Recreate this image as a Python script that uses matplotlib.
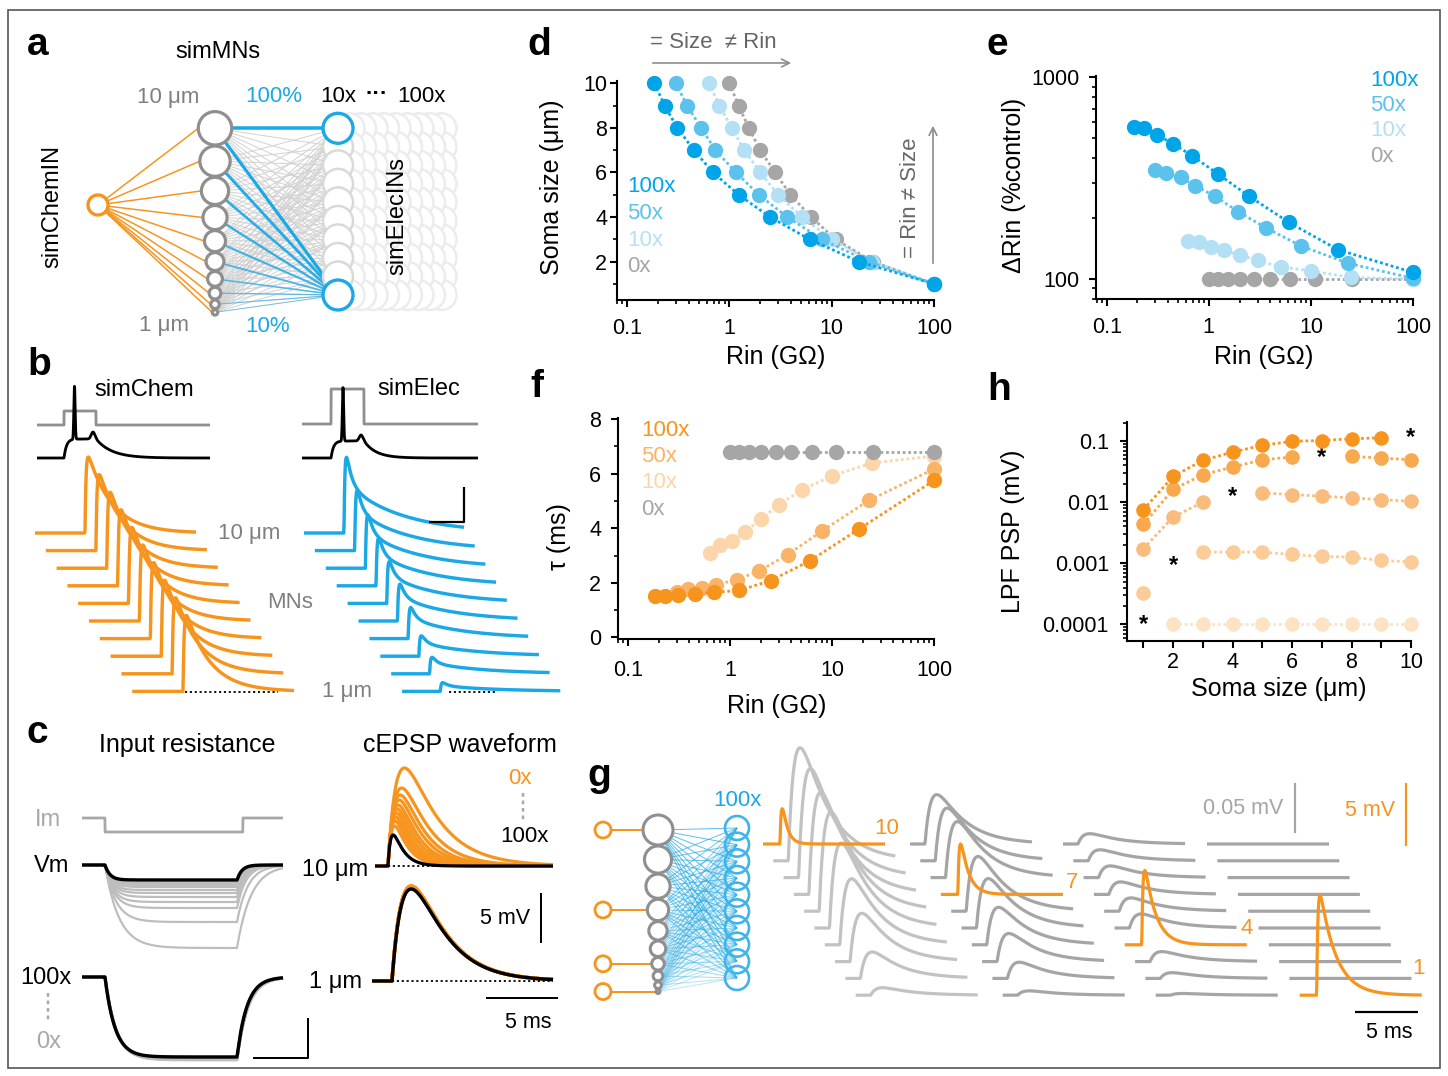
import numpy as np
import matplotlib
matplotlib.use('Agg')
import matplotlib.pyplot as plt
from matplotlib.patches import Circle, Rectangle
from matplotlib.ticker import FixedLocator, FixedFormatter, NullFormatter, LogLocator

plt.rcParams['font.family'] = ['Liberation Sans', 'DejaVu Sans']

# ---------------- data ----------------
soma = np.array([10, 9, 8, 7, 6, 5, 4, 3, 2, 1])          # soma size (um) of the 10 simMNs
cond_labels = ['100x', '50x', '10x', '0x']

# panel d / e / f : input resistance (GOhm) per soma size
rin_100x = [0.185, 0.233, 0.31, 0.45, 0.69, 1.23, 2.5, 6.1, 18.4, 100]
rin_50x = [0.30, 0.385, 0.53, 0.73, 1.16, 1.94, 3.67, 8.05, 23.0, 100]
rin_10x = [0.63, 0.80, 1.05, 1.4, 2.0, 3.0, 5.1, 10.0, 24.8, 100]
rin_0x = [1.0, 1.23, 1.55, 2.0, 2.8, 3.95, 6.3, 10.9, 25.3, 100]

drin_100x = [570, 560, 519, 468, 408, 332, 257, 191, 140, 108]
drin_50x = [348, 335, 320, 291, 257, 216, 179, 146, 120, 101]
drin_10x = [155, 152, 145, 139, 132, 124, 115, 110, 102, 100]
drin_0x = [100, 100, 100, 100, 100, 100, 100, 100, 100, 100]

tau_100x = [1.53, 1.53, 1.56, 1.60, 1.65, 1.72, 2.08, 2.81, 3.97, 5.75]
tau_50x = [1.65, 1.78, 1.80, 1.93, 2.11, 2.44, 3.03, 3.91, 5.02, 6.17]
tau_10x = [3.11, 3.39, 3.52, 3.86, 4.33, 4.86, 5.41, 5.92, 6.39, 6.65]
tau_0x = [6.78, 6.78, 6.78, 6.78, 6.78, 6.78, 6.78, 6.78, 6.78, 6.78]

# panel h : LPF PSP (mV) in MNs of size 1..10 um, for each stimulated MN
nan = np.nan
h_size = [1, 2, 3, 4, 5, 6, 7, 8, 9, 10]
psp_mn10 = [0.0075, 0.0264, 0.0483, 0.066, 0.085, 0.099, 0.102, 0.109, 0.113, nan]
psp_mn7 = [0.00433, 0.0162, 0.0281, 0.0375, 0.0494, 0.0547, nan, 0.056, 0.0527, 0.0494]
psp_mn4 = [0.00173, 0.0057, 0.0100, nan, 0.0141, 0.0133, 0.0125, 0.0117, 0.0110, 0.0103]
psp_mn2 = [0.000325, nan, 0.00152, 0.00152, 0.00152, 0.00139, 0.00129, 0.00126, 0.00111, 0.00105]
psp_mn1 = [nan, 0.0001, 0.0001, 0.0001, 0.0001, 0.0001, 0.0001, 0.0001, 0.0001, 0.0001]
star_size = [10, 7, 4, 2, 1]
star_psp = [0.116, 0.053, 0.0124, 0.00093, 0.0001]

# panel a : coupling strength of each MN onto elecINs (%)
coupling_pct = [100, 90, 80, 70, 60, 50, 40, 30, 20, 10]

# panel b : peak of the PSP in each MN (10 um -> 1 um), pixels of the schematic
chem_amp = [76, 76, 76, 76, 76, 76, 76, 76, 76, 76]
elec_amp = [78, 62, 55, 49, 43, 38, 32, 21, 17, 9]

# panel c : Vm step responses (0x ... 100x), 10 um and 1 um MN
vm10_depth = [83, 57, 43, 37, 32, 28, 25, 22, 20, 18, 15]
vm10_tau = [14, 11, 9, 8, 7.5, 7, 6.5, 6, 6, 5.5, 5]
vm1_depth = [83, 82.6, 82.3, 82, 81.7, 81.4, 81.1, 80.8, 80.5, 80.2, 80]
vm1_tau = [11, 10.9, 10.8, 10.7, 10.6, 10.5, 10.4, 10.3, 10.2, 10.1, 10]
# cEPSP waveform (0x ... 100x)
epsp10_amp = [98, 78, 71, 66, 61, 57, 53, 49, 45, 40, 31]
epsp10_tr = [9.5, 8, 7.2, 6.6, 6, 5.5, 5, 4.6, 4.2, 3.8, 3]
epsp10_td = [32, 26, 23, 21, 19, 17.5, 16, 14.5, 13.5, 12.5, 10]
epsp1_amp = [95, 95, 94.8, 94.6, 94.4, 94.2, 94, 93.6, 93.2, 92.6, 92]

# panel g : stimulated MN and its own PSP (mV, orange)
g_stim = [10, 7, 4, 1]
g_orange_mv = [2.8, 4.0, 5.9, 7.9]
g_orange_td = [5, 8, 11, 16]
g_gray_series = [psp_mn10, psp_mn7, psp_mn4, psp_mn1]

# ---------------- styles ----------------
W, H = 1448, 1076
PX = 0.72
OR = '#f7941d'
BL = '#1ba8e6'
BLUES = ['#00a5e9', '#5bc2ee', '#b3e0f5', '#a6a6a6']
ORANGES = ['#f7941d', '#f9b467', '#fcd5aa', '#a6a6a6']
H_COLORS = ['#f7941d', '#f8a94e', '#f9bc7d', '#fbcb98', '#fde2c4']

fig = plt.figure(figsize=(W / 100, H / 100), dpi=100)


def px_axes(x0, y0, x1, y1):
    return fig.add_axes([x0 / W, 1 - y1 / H, (x1 - x0) / W, (y1 - y0) / H])


def style(ax, xpad, ypad):
    ax.patch.set_visible(False)
    for s in ('top', 'right'):
        ax.spines[s].set_visible(False)
    for s in ('left', 'bottom'):
        ax.spines[s].set_linewidth(1.5)
    ax.tick_params(which='major', length=5, width=1.5, labelsize=15.5)
    ax.tick_params(which='minor', length=3, width=1.2)
    ax.tick_params(axis='x', pad=xpad)
    ax.tick_params(axis='y', pad=ypad)


def logx(ax):
    ax.set_xscale('log')
    ax.xaxis.set_major_locator(FixedLocator([0.1, 1, 10, 100]))
    ax.xaxis.set_major_formatter(FixedFormatter(['0.1', '1', '10', '100']))
    ax.xaxis.set_minor_locator(LogLocator(base=10, subs=np.arange(2, 10), numticks=20))
    ax.xaxis.set_minor_formatter(NullFormatter())


def series(ax, x, y, c, z, ms=10):
    ax.plot(x, y, ls=(0, (1, 1)), lw=2.0, color=c, marker='o', ms=ms,
            mfc=c, mec=c, zorder=z, clip_on=False)


def dexp(t, tr, td):
    t = np.clip(t, 0.0, None)
    tp = tr * td / (td - tr) * np.log(td / tr)
    pk = np.exp(-tp / td) - np.exp(-tp / tr)
    return (np.exp(-t / td) - np.exp(-t / tr)) / pk


def step_resp(xs, on, off, depth, tau, tau_off=None):
    tau_off = tau if tau_off is None else tau_off
    v = np.zeros_like(xs)
    m1 = (xs >= on) & (xs < off)
    v[m1] = depth * (1 - np.exp(-(xs[m1] - on) / tau))
    vend = depth * (1 - np.exp(-(off - on) / tau))
    m2 = xs >= off
    v[m2] = vend * np.exp(-(xs[m2] - off) / tau_off)
    return v


# ---------------- panel d ----------------
axd = px_axes(617, 81, 934, 300)
style(axd, 8, 2)
logx(axd)
axd.set_xlim(0.0798, 100)
axd.set_ylim(0.28, 10.1)
axd.yaxis.set_major_locator(FixedLocator([2, 4, 6, 8, 10]))
axd.yaxis.set_minor_locator(FixedLocator([1, 3, 5, 7, 9]))
for k, (r, c) in enumerate(zip([rin_0x, rin_10x, rin_50x, rin_100x], BLUES[::-1])):
    series(axd, r, soma, c, 3 + k)

# ---------------- panel e ----------------
axe = px_axes(1096, 76, 1413, 299)
style(axe, 8, 7)
logx(axe)
axe.set_xlim(0.0786, 100)
axe.set_yscale('log')
axe.set_ylim(79.8, 1015)
axe.yaxis.set_major_locator(FixedLocator([100, 1000]))
axe.yaxis.set_major_formatter(FixedFormatter(['100', '1000']))
axe.yaxis.set_minor_locator(LogLocator(base=10, subs=np.arange(2, 10), numticks=20))
axe.yaxis.set_minor_formatter(NullFormatter())
for k, (r, dr, c) in enumerate(zip([rin_0x, rin_10x, rin_50x, rin_100x],
                                    [drin_0x, drin_10x, drin_50x, drin_100x], BLUES[::-1])):
    series(axe, r, dr, c, 3 + k)

# ---------------- panel f ----------------
axf = px_axes(618, 418, 934, 639)
style(axf, 10, 7)
logx(axf)
axf.set_xlim(0.0798, 100)
axf.set_ylim(-0.06, 8.04)
axf.yaxis.set_major_locator(FixedLocator([0, 2, 4, 6, 8]))
axf.yaxis.set_minor_locator(FixedLocator([1, 3, 5, 7]))
for k, (r, t, c) in enumerate(zip([rin_10x, rin_50x, rin_100x, rin_0x],
                                   [tau_10x, tau_50x, tau_100x, tau_0x],
                                   [ORANGES[2], ORANGES[1], ORANGES[0], ORANGES[3]])):
    series(axf, r, t, c, 3 + k)

# ---------------- panel h ----------------
axh = px_axes(1127, 422, 1411, 641)
style(axh, 3, 8)
axh.set_yscale('log')
axh.set_xlim(0.45, 10)
axh.set_ylim(5.33e-5, 0.205)
axh.xaxis.set_major_locator(FixedLocator([2, 4, 6, 8, 10]))
axh.xaxis.set_minor_locator(FixedLocator([1, 3, 5, 7, 9]))
axh.tick_params(axis='x', which='minor', length=5, width=1.5)
axh.yaxis.set_major_locator(FixedLocator([1e-4, 1e-3, 1e-2, 0.1]))
axh.yaxis.set_major_formatter(FixedFormatter(['0.0001', '0.001', '0.01', '0.1']))
axh.yaxis.set_minor_locator(LogLocator(base=10, subs=np.arange(2, 10), numticks=20))
axh.yaxis.set_minor_formatter(NullFormatter())
h_series = [psp_mn1, psp_mn2, psp_mn4, psp_mn7, psp_mn10]
for k, (s, c) in enumerate(zip(h_series, H_COLORS[::-1])):
    series(axh, h_size, s, c, 3 + k, ms=9.5)
for xs_, ys_ in zip(star_size, star_psp):
    axh.text(xs_, ys_, '*', fontsize=17, fontweight='bold', ha='center', va='center')

# ---------------- overlay (schematics and text) ----------------
ov = px_axes(0, 0, W, H)
ov.set_xlim(0, W)
ov.set_ylim(H, 0)
ov.axis('off')
ov.set_zorder(10)


def T(x, y, s, size=16, color='black', ha='center', va='center', **kw):
    ov.text(x, y, s, fontsize=size, color=color, ha=ha, va=va, **kw)


def L(xs, ys, color='black', lw=2.0, z=3, **kw):
    ov.plot(xs, ys, color=color, lw=lw * PX, zorder=z, solid_capstyle='butt', **kw)


ov.add_patch(Rectangle((8, 10), 1432, 1058, fill=False, ec='#555555', lw=1.2))

# panel letters
for s, x, y in [('a', 27, 45), ('b', 27, 365), ('c', 27, 733), ('d', 527, 45),
                ('e', 987, 45), ('f', 530, 387), ('g', 587, 776), ('h', 987, 390)]:
    T(x, y, s, size=28, fontweight='bold', ha='left')

# axis labels and legends for d e f h
T(552, 187, 'Soma size (μm)', size=18, rotation=90)
T(776, 357, 'Rin (GΩ)', size=18)
T(1014, 185, 'ΔRin (%control)', size=18, rotation=90)
T(1264, 357, 'Rin (GΩ)', size=18)
T(559, 537, 'τ (ms)', size=18, rotation=90)
T(777, 706, 'Rin (GΩ)', size=18)
T(1013, 531, 'LPF PSP (mV)', size=18, rotation=90)
T(1279, 689, 'Soma size (μm)', size=18)
for k, (lab, c) in enumerate(zip(cond_labels, BLUES)):
    T(627, 187 + 26.5 * k, lab, size=16, color=c, ha='left')
    T(1370, 80 + 25.5 * k, lab, size=16, color=c, ha='left')
for k, (lab, c) in enumerate(zip(cond_labels, ORANGES)):
    T(641, 430 + 26.5 * k, lab, size=16, color=c, ha='left')

# d annotations
T(650, 43, '= Size  ≠ Rin', size=16, color='#666666', ha='left')
ov.annotate('', xy=(794, 63), xytext=(650, 63),
            arrowprops=dict(arrowstyle='->', color='#8c8c8c', lw=1.2, mutation_scale=14), zorder=4)
T(910, 198, '= Rin ≠ Size', size=16, color='#666666', rotation=90)
ov.annotate('', xy=(933, 123), xytext=(933, 266),
            arrowprops=dict(arrowstyle='->', color='#8c8c8c', lw=1.2, mutation_scale=14), zorder=4)

# ---- panel a ----
cx, cy = 98, 205
mn_x = 215
r_a = 1.55 * soma + 1.2
mn_y = [128.3]
for k in range(1, 10):
    mn_y.append(mn_y[-1] + r_a[k - 1] + r_a[k] + 1.0)
ein_x = 338
ein_y = np.linspace(128.3, 295, 10)
for yy, rr in zip(mn_y, r_a):
    L([cx, mn_x - rr], [cy, yy], color=OR, lw=1.5, z=2)
for yy in mn_y:
    for ye in ein_y:
        L([mn_x, ein_x], [yy, ye], color='#d2d2d2', lw=1.0, z=2)
for col in range(9, 0, -1):
    for ye in ein_y:
        ov.add_patch(Circle((ein_x + col * 11.5, ye), 15, fc='white', ec='#ececec', lw=1.8, zorder=3))
for ye in ein_y[1:-1]:
    ov.add_patch(Circle((ein_x, ye), 15, fc='white', ec='#d9d9d9', lw=1.8, zorder=3.5))
L([mn_x, ein_x], [mn_y[0], ein_y[0]], color=BL, lw=3.5, z=2.5)
for yy, p in zip(mn_y, coupling_pct):
    L([mn_x, ein_x], [yy, ein_y[-1]], color=BL, lw=0.6 + 2.6 * p / 100, z=2.5,
      alpha=0.45 + 0.55 * p / 100)
for ye in (ein_y[0], ein_y[-1]):
    ov.add_patch(Circle((ein_x, ye), 15, fc='white', ec=BL, lw=2.4, zorder=4))
for yy, rr in zip(mn_y, r_a):
    ov.add_patch(Circle((mn_x, yy), rr, fc='white', ec='#8f8f8f', lw=2.3, zorder=4))
ov.add_patch(Circle((cx, cy), 10, fc='white', ec=OR, lw=2.4, zorder=4))
T(218, 52, 'simMNs', size=17)
T(168, 97, '10 μm', size=16, color='#7f7f7f')
T(274, 97, '100%', size=16, color=BL)
T(320, 97, '10x', size=16, ha='left')
T(377, 95, '···', size=16, fontweight='bold')
T(397, 97, '100x', size=16, ha='left')
T(164, 326, '1 μm', size=16, color='#7f7f7f')
T(268, 326, '10%', size=16, color=BL)
T(52, 206, 'simChemIN', size=17, rotation=90)
T(397, 216, 'simElecINs', size=17, rotation=90, zorder=6)

# ---- panel b ----
xs = np.linspace(37, 210, 900)
L(xs, 425 - 14 * ((xs >= 64) & (xs <= 96)), color='#8f8f8f', lw=2.8)
dep = step_resp(xs, 64, 96, 19, 2.5, 16)
spk = 53 * np.exp(-((xs - 74.5) / 0.9) ** 2)
bmp = 7 * np.exp(-((xs - 93) / 2.5) ** 2)
L(xs, 458 - dep - spk - bmp, color='black', lw=2.8)
xs = np.linspace(302, 478, 900)
L(xs, 424 - 35 * ((xs >= 331) & (xs <= 364)), color='#8f8f8f', lw=2.8)
dep = step_resp(xs, 331, 364, 17, 2.5, 12)
spk = 54 * np.exp(-((xs - 343) / 0.9) ** 2)
bmp = 6 * np.exp(-((xs - 361) / 2.5) ** 2)
L(xs, 458 - dep - spk - bmp, color='black', lw=2.8)
T(94, 390, 'simChem', size=17, ha='left')
T(377, 389, 'simElec', size=17, ha='left')
for i, (a, b) in enumerate(zip(chem_amp, elec_amp)):
    yb = 533 + i * 17.6
    xx = np.linspace(35 + i * 10.8, 196 + i * 10.9, 400)
    L(xx, yb - a * dexp(xx - (85 + i * 10.9), 1.0, 24), color=OR, lw=3.4, z=3)
    xx = np.linspace(304 + i * 10.9, 464 + i * 10.7, 400)
    t = xx - (344 + i * 10.7)
    L(xx, yb - b * (0.4 * dexp(t, 0.9, 5) + 0.6 * dexp(t, 0.9, 55)), color=BL, lw=3.4, z=3)
L([185, 278], [692, 692], color='black', lw=1.8, ls=(0, (1.2, 1.5)), z=4)
L([449, 496], [692, 692], color='black', lw=1.8, ls=(0, (1.2, 1.5)), z=4)
L([428.6, 463.6, 463.6], [522, 522, 487], lw=2.2)
T(249, 533, '10 μm', size=16, color='#7f7f7f')
T(290, 602, 'MNs', size=16, color='#7f7f7f')
T(347, 692, '1 μm', size=16, color='#7f7f7f')

# ---- panel c ----
T(187, 745, 'Input resistance', size=18)
T(460, 745, 'cEPSP waveform', size=18)
xs = np.linspace(82, 283, 800)
L(xs, 818 + 14 * ((xs >= 105) & (xs <= 243)), color='#a8a8a8', lw=2.8)
T(48, 820, 'Im', size=17, color='#a8a8a8')
T(52, 866, 'Vm', size=17)
for k, (d, tau) in enumerate(zip(vm10_depth, vm10_tau)):
    last = k == len(vm10_depth) - 1
    L(xs, 865 + step_resp(xs, 105, 237, d, tau), color='black' if last else '#bdbdbd',
      lw=3.4 if last else 2.2, z=4 if last else 3)
for k, (d, tau) in enumerate(zip(vm1_depth, vm1_tau)):
    last = k == len(vm1_depth) - 1
    L(xs, 977 + step_resp(xs, 105, 237, d, tau), color='black' if last else '#bdbdbd',
      lw=3.4 if last else 2.8, z=4 if last else 3)
T(46, 978, '100x', size=17)
L([48, 48], [993, 1022], color='#a8a8a8', lw=2.5, ls=(0, (1.5, 1.5)))
T(49, 1042, '0x', size=17, color='#a8a8a8')
L([253, 308, 308], [1058, 1058, 1018], lw=2.0)

xs = np.linspace(375, 553, 600)
for k, (a, tr, td) in enumerate(zip(epsp10_amp, epsp10_tr, epsp10_td)):
    last = k == len(epsp10_amp) - 1
    L(xs, 866 - a * dexp(xs - 388, tr, td), color='black' if last else OR,
      lw=3.2, z=4 if last else 3)
xs = np.linspace(372, 553, 600)
for k, a in enumerate(epsp1_amp):
    last = k == len(epsp1_amp) - 1
    L(xs, 981 - a * dexp(xs - 392, 13, 30), color='black' if last else OR,
      lw=3.4, z=4 if last else 3)
L([388, 470], [866, 866], color='black', lw=1.8, ls=(0, (1.2, 1.5)), z=5)
L([392, 553], [981, 981], color='black', lw=1.8, ls=(0, (1.2, 1.5)), z=5)
T(368, 870, '10 μm', size=17, ha='right')
T(362, 982, '1 μm', size=17, ha='right')
T(520, 779, '0x', size=16, color=OR)
L([523, 523], [793, 821], color='#a8a8a8', lw=2.5, ls=(0, (1.5, 1.5)))
T(524, 837, '100x', size=16)
T(530, 918, '5 mV', size=15.5, ha='right')
L([541, 541], [893, 943], lw=2.0)
L([486, 558], [998, 998], lw=2.0)
T(528, 1022, '5 ms', size=15.5)

# ---- panel g schematic ----
r_g = 1.45 * soma + 0.5
gmn_y = [830.0]
for k in range(1, 10):
    gmn_y.append(gmn_y[-1] + r_g[k - 1] + r_g[k] + 1.0)
gmn_x = 658
gein_x = 737
gein_y = np.linspace(828, 978, 10)
for yy, p in zip(gmn_y, coupling_pct):
    for ye in gein_y:
        L([gmn_x, gein_x], [yy, ye], color='#29abe2', lw=1.0, z=2, alpha=0.25 + 0.5 * p / 100)
for ye in gein_y:
    ov.add_patch(Circle((gein_x, ye), 12, fc='none', ec='#3db4ea', lw=1.9, zorder=3))
for yy, rr in zip(gmn_y, r_g):
    ov.add_patch(Circle((gmn_x, yy), rr, fc='white', ec='#8f8f8f', lw=2.2, zorder=4))
for s in g_stim:
    yy = gmn_y[10 - s]
    rr = r_g[10 - s]
    L([611, gmn_x - rr], [yy, yy], color=OR, lw=2, z=3)
    ov.add_patch(Circle((603, yy), 8, fc='white', ec=OR, lw=2.0, zorder=4))
T(737, 800, '100x', size=16, color=BL)

# ---- panel g traces ----
g_x0 = [763, 910, 1063, 1207]
g_gray = ['#c2c2c2', '#a5a5a5', '#a5a5a5', '#a5a5a5']
for gi, (s, amp_o, td_o, ser) in enumerate(zip(g_stim, g_orange_mv, g_orange_td, g_gray_series)):
    for row in range(10):
        a = ser[9 - row]
        x0 = g_x0[gi] + row * 10.3
        yb = 844 + row * 16.8
        xx = np.linspace(x0, x0 + 122, 300)
        if np.isnan(a):
            L(xx, yb - amp_o * 12.6 * dexp(xx - (x0 + 17), 1.2, td_o), color=OR, lw=3.2, z=5)
        else:
            L(xx, yb - a * 1000 * dexp(xx - (x0 + 15), 6, 28), color=g_gray[gi], lw=3.2, z=3)
T(887, 828, '10', size=16, color=OR)
T(1072, 882, '7', size=16, color=OR)
T(1247, 929, '4', size=16, color=OR)
T(1418, 968, '1', size=16, color=OR)
T(1283, 808, '0.05 mV', size=15.5, color='#a5a5a5', ha='right')
L([1295, 1295], [783, 833], color='#a5a5a5', lw=2.2)
T(1395, 811, '5 mV', size=15.5, color=OR, ha='right')
L([1406, 1406], [783, 846], color=OR, lw=2.2)
L([1355, 1418], [1012, 1012], lw=2.2)
T(1389, 1032, '5 ms', size=15.5)

fig.savefig('out.png', dpi=100)
